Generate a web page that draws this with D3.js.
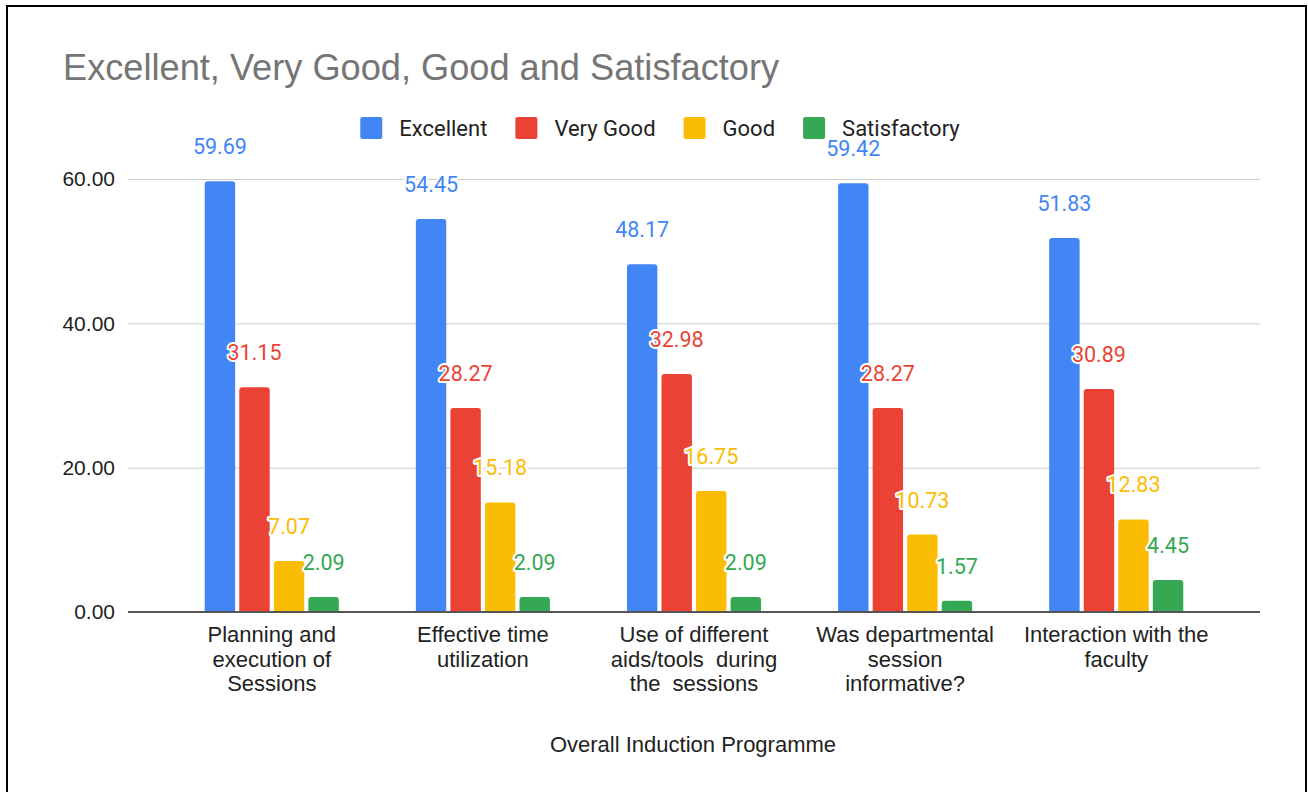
<!DOCTYPE html>
<html>
<head>
<meta charset="utf-8">
<script src="https://cdn.jsdelivr.net/npm/d3@7"></script>
<style>
  html, body { margin: 0; padding: 0; background: #fff; }
  svg { display: block; font-family: Roboto, Arial, sans-serif; }
</style>
</head>
<body>
<svg></svg>
<script>
// chart data
const categories = [
    "Planning and\nexecution of\nSessions",
    "Effective time\nutilization",
    "Use of different\naids/tools  during\nthe  sessions",
    "Was departmental\nsession\ninformative?",
    "Interaction with the\nfaculty"
];
const seriesNames = ["Excellent", "Very Good", "Good", "Satisfactory"];
const excellent = [59.69, 54.45, 48.17, 59.42, 51.83];
const veryGood = [31.15, 28.27, 32.98, 28.27, 30.89];
const good = [7.07, 15.18, 16.75, 10.73, 12.83];
const satisfactory = [2.09, 2.09, 2.09, 1.57, 4.45];
const yTicks = [0, 20, 40, 60];

const colors = ["#4285f4", "#ea4335", "#fbbc04", "#34a853"];
const allSeries = [excellent, veryGood, good, satisfactory];

const arial = '"Liberation Sans", Arial, sans-serif';
const size = {w: 1308, h: 792};
const plot = {l: 128, r: 1260, t: 179, b: 612};
const svg = d3.select('svg').attr('width', size.w).attr('height', size.h);

// frame
svg.append('rect')
    .attr('x', 7).attr('y', 6)
    .attr('width', 1299).attr('height', 820)
    .attr('fill', 'none').attr('stroke', '#000').attr('stroke-width', 2);

// title
svg.append('text')
    .attr('x', 63).attr('y', 80)
    .attr('fill', '#757575')
    .style('font-family', arial)
    .style('font-size', '36.2px')
    .text('Excellent, Very Good, Good and Satisfactory');

//Scales
const x0 = d3.scaleBand()
    .domain(categories)
    .range([plot.l, plot.r])
    .paddingInner(0.365)
    .paddingOuter(0.3635);

const x1 = d3.scaleBand()
    .domain(seriesNames)
    .range([0, x0.bandwidth()])
    .paddingInner(0.12);

const y = d3.scaleLinear().domain([0, 60]).range([plot.b, plot.t]);

// gridlines + y labels
const yAxis = svg.append('g')
    .attr('transform', `translate(${plot.l},0)`)
    .call(d3.axisLeft(y).tickValues(yTicks).tickSize(-(plot.r - plot.l)).tickPadding(13).tickFormat(d3.format('.2f')));
yAxis.select('.domain').remove();
yAxis.selectAll('.tick line').attr('stroke', '#cccccc');
yAxis.selectAll('.tick text')
    .attr('fill', '#222')
    .style('font-size', '21px')
    .style('font-family', arial);

//Bars
const rows = categories.map((c, i) => ({cat: c, vals: allSeries.map((s, j) => ({name: seriesNames[j], v: s[i], color: colors[j]}))}));

function topRounded(x, yTop, w, h, r) {
    r = Math.min(r, h, w / 2);
    return `M${x},${yTop + h}V${yTop + r}Q${x},${yTop} ${x + r},${yTop}H${x + w - r}Q${x + w},${yTop} ${x + w},${yTop + r}V${yTop + h}Z`;
}

const groups = svg.append('g').selectAll('g')
    .data(rows)
    .join('g')
    .attr('transform', d => `translate(${x0(d.cat)},0)`);

groups.selectAll('path')
    .data(d => d.vals)
    .join('path')
    .attr('fill', d => d.color)
    .attr('d', d => topRounded(x1(d.name), y(d.v), x1.bandwidth(), y(0) - y(d.v), 3));

// baseline
svg.append('line')
    .attr('x1', plot.l).attr('x2', plot.r)
    .attr('y1', plot.b).attr('y2', plot.b)
    .attr('stroke', '#555').attr('stroke-width', 2);

// value labels
groups.selectAll('text')
    .data(d => d.vals)
    .join('text')
    .attr('x', d => x1(d.name) + x1.bandwidth() / 2)
    .attr('y', d => y(d.v) - 27)
    .attr('text-anchor', 'middle')
    .attr('fill', d => d.color)
    .attr('stroke', '#fff')
    .attr('stroke-width', 4)
    .attr('stroke-linejoin', 'round')
    .attr('paint-order', 'stroke')
    .style('font-size', '21.5px')
    .text(d => d.v.toFixed(2));

// category labels
const catLabels = svg.append('g').selectAll('text')
    .data(categories)
    .join('text')
    .attr('x', d => x0(d) + x0.bandwidth() / 2)
    .attr('y', 642)
    .attr('text-anchor', 'middle')
    .attr('fill', '#222')
    .style('font-family', arial)
    .style('font-size', '22px')
    .style('white-space', 'pre');
catLabels.selectAll('tspan')
    .data(d => d.split('\n'))
    .join('tspan')
    .attr('x', function() { return d3.select(this.parentNode).attr('x'); })
    .attr('dy', (d, i) => i === 0 ? 0 : 24.5)
    .text(d => d);

// x axis title
svg.append('text')
    .attr('x', 693)
    .attr('y', 752)
    .attr('text-anchor', 'middle')
    .attr('fill', '#222')
    .style('font-family', arial)
    .style('font-size', '22px')
    .text('Overall Induction Programme');

//Legend
const legend = svg.append('g');
let lx = 0;
seriesNames.forEach((name, i) => {
    const item = legend.append('g').attr('transform', `translate(${lx},0)`);
    item.append('rect')
        .attr('x', 0).attr('y', 117)
        .attr('width', 22).attr('height', 22)
        .attr('rx', 2)
        .attr('fill', colors[i]);
    const t = item.append('text')
        .attr('x', 39).attr('y', 136)
        .attr('fill', '#222')
        .style('font-size', '22px')
        .text(name);
    lx += 39 + t.node().getComputedTextLength() + 28;
});
const legendW = lx - 28;
legend.attr('transform', `translate(${660 - legendW / 2},0)`);
</script>
</body>
</html>
